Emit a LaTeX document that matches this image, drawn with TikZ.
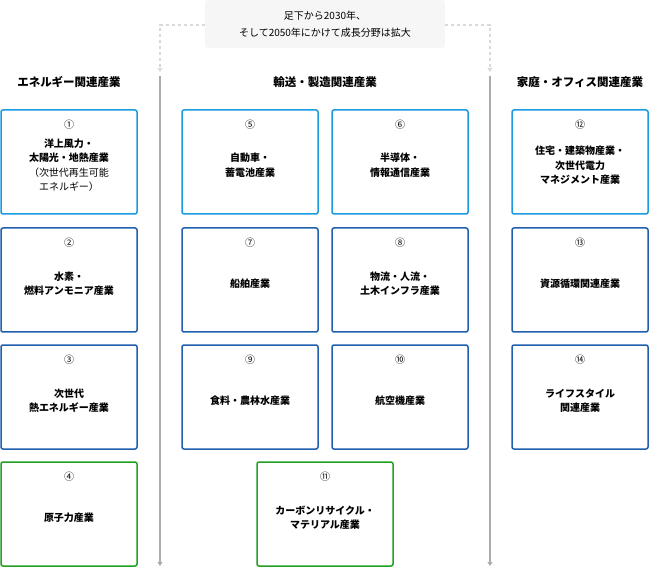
\documentclass[tikz,border=0pt]{standalone}
\usepackage{fontspec}
\setmainfont{Noto Sans CJK JP}
\usetikzlibrary{arrows.meta}
\definecolor{lblue}{HTML}{1A9BE0}
\definecolor{dblue}{HTML}{1F5FAE}
\definecolor{dgreen}{HTML}{22A022}
\begin{document}
\begin{tikzpicture}[
        x=1pt, y=-1pt,
        font=\fontsize{10}{14}\selectfont,
        box/.style={
            rectangle,
            rounded corners=2pt,
            draw=dblue,
            line width=1.5pt,
            minimum width=136pt,
            minimum height=104pt,
            align=center,
            text depth=0pt,
            font=\fontsize{10}{14.5}\selectfont\bfseries,
        },
        box1/.style={draw=lblue},
        box3/.style={draw=dgreen},
        num/.style={anchor=north, yshift=-7pt, font=\fontsize{10}{12}\selectfont},
        head/.style={font=\fontsize{11.5}{14}\selectfont\bfseries},
        flow/.style={gray!65, line width=1.2pt, -{Triangle[width=5pt,length=4pt]}},
        link/.style={gray!30, line width=1.2pt, dashed, -{Triangle[width=5pt,length=4pt]}},
    ]
        \useasboundingbox (0,0) rectangle (657,567);

        \node [fill=gray!7, rounded corners=3pt, minimum width=240pt, minimum height=48pt,
            align=center, font=\fontsize{10}{17}\selectfont] (note) at (325,24)
            {足下から2030年、\\そして2050年にかけて成長分野は拡大};

        \coordinate (lt) at (160,25);
        \coordinate (lm) at (160,72);
        \coordinate (lb) at (160,566);
        \coordinate (rt) at (490,25);
        \coordinate (rm) at (490,72);
        \coordinate (rb) at (490,566);
        \draw [link] (note.west |- lt) -- (lt) -- (lm);
        \draw [link] (note.east |- rt) -- (rt) -- (rm);
        \draw [flow] ([yshift=-4pt]lm) -- (lb);
        \draw [flow] ([yshift=-4pt]rm) -- (rb);

        \node [head] (h1) at (69,82) {エネルギー関連産業};
        \node [head] (h2) at (325,82) {輸送・製造関連産業};
        \node [head] (h3) at (580,82) {家庭・オフィス関連産業};

        \node [box, box1, label={[num]north:①}] (b1) at (69,162)
            {\\洋上風力・\\太陽光・地熱産業\\{\mdseries（次世代再生可能}\\{\mdseries エネルギー）}};
        \node [box, label={[num]north:②}] (b2) at (69,280) {\\水素・\\燃料アンモニア産業};
        \node [box, label={[num]north:③}] (b3) at (69,397) {\\次世代\\熱エネルギー産業};
        \node [box, box3, label={[num]north:④}] (b4) at (69,514) {\\原子力産業};

        \node [box, box1, label={[num]north:⑤}] (b5) at (250,162) {\\自動車・\\蓄電池産業};
        \node [box, box1, label={[num]north:⑥}] (b6) at (400,162) {\\半導体・\\情報通信産業};
        \node [box, label={[num]north:⑦}] (b7) at (250,280) {\\船舶産業};
        \node [box, label={[num]north:⑧}] (b8) at (400,280) {\\物流・人流・\\土木インフラ産業};
        \node [box, label={[num]north:⑨}] (b9) at (250,397) {\\食料・農林水産業};
        \node [box, label={[num]north:⑩}] (b10) at (400,397) {\\航空機産業};
        \node [box, box3, label={[num]north:⑪}] (b11) at (325,514) {\\カーボンリサイクル・\\マテリアル産業};

        \node [box, box1, label={[num]north:⑫}] (b12) at (580,162)
            {\\住宅・建築物産業・\\次世代電力\\マネジメント産業};
        \node [box, label={[num]north:⑬}] (b13) at (580,280) {\\資源循環関連産業};
        \node [box, label={[num]north:⑭}] (b14) at (580,397) {\\ライフスタイル\\関連産業};
    \end{tikzpicture}
\end{document}
